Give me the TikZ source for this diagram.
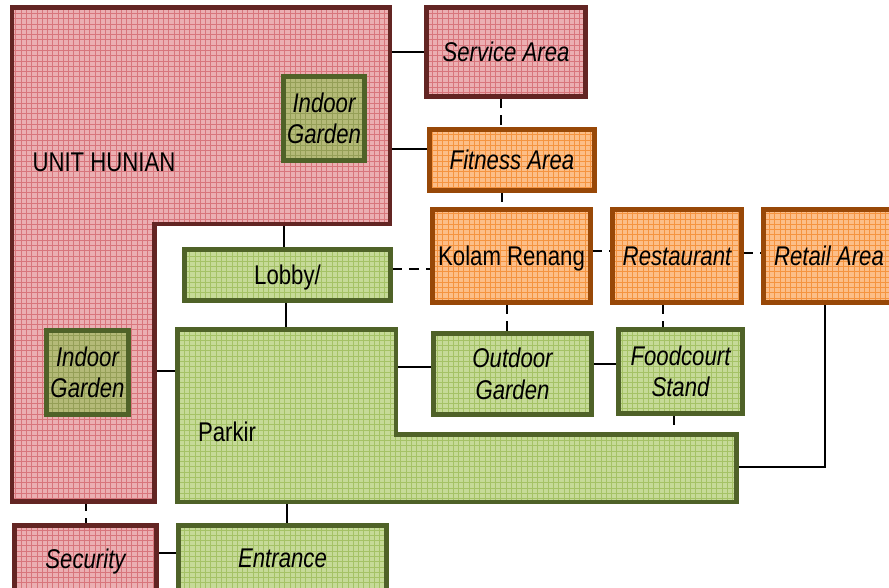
\documentclass[tikz,border=0pt]{standalone}
\usepackage{fontspec}
\setmainfont{Liberation Sans}[FakeStretch=0.82]
\usepackage{xcolor}
\usepackage{tikz}
\usetikzlibrary{patterns,backgrounds,calc}
\definecolor{REDLINE}{HTML}{632523}
\definecolor{PINK}{HTML}{EBAFB2}
\definecolor{PINKGRID}{HTML}{D8767C}
\definecolor{ORLINE}{HTML}{984807}
\definecolor{ORANGE}{HTML}{FCBE88}
\definecolor{ORGRID}{HTML}{F59440}
\definecolor{GRLINE}{HTML}{4F6228}
\definecolor{GREEN}{HTML}{C6DA98}
\definecolor{GRGRID}{HTML}{A5C266}
\definecolor{OLIVE}{HTML}{B4BA78}
\definecolor{OLGRID}{HTML}{959F57}
\newcommand{\bodyfont}{\fontsize{15.4}{18}\selectfont}

\begin{document}
\begin{tikzpicture}[
  x=0.02cm, y=-0.02cm,
  font=\bodyfont,
  area/.style={draw, line width=2.6pt, align=center, inner sep=0pt},
  pinkarea/.style={area, draw=REDLINE, preaction={fill=PINK}, pattern=grid, pattern color=PINKGRID},
  orarea/.style={area, draw=ORLINE, preaction={fill=ORANGE}, pattern=grid, pattern color=ORGRID},
  grarea/.style={area, draw=GRLINE, preaction={fill=GREEN}, pattern=grid, pattern color=GRGRID},
  olarea/.style={area, draw=GRLINE, preaction={fill=OLIVE}, pattern=grid, pattern color=OLGRID},
  slant/.style={font=\bodyfont\itshape},
  oneline/.style={text height=11pt, text depth=0pt},
  link/.style={draw=black, line width=1.1pt},
  dashlink/.style={link, dash pattern=on 5.5pt off 4pt},
]
\useasboundingbox (0,0) rectangle (889,588);
\clip (0,0) rectangle (889,588);

% unit hunian (L shape)
\coordinate (unTL) at (12,7.5);
\coordinate (unTR) at (390,7.5);
\coordinate (unIn) at (390,224);
\coordinate (unBR) at (154.5,501.5);
\coordinate (unBL) at (12,501.5);
\draw[area, draw=REDLINE, preaction={fill=PINK}, pattern=grid, pattern color=PINKGRID]
  (unTL) -- (unTR) -- (unIn) -- (154.5,224) -- (unBR) -- (unBL) -- cycle;
\node (unit) at (104,162) {UNIT HUNIAN};

% parkir (L shape)
\coordinate (pkTL) at (177.5,329.5);
\coordinate (pkTR) at (396,329.5);
\coordinate (pkArm) at (396,434.5);
\coordinate (pkBR) at (736.5,502);
\draw[area, draw=GRLINE, preaction={fill=GREEN}, pattern=grid, pattern color=GRGRID]
  (pkTL) -- (pkTR) -- (pkArm) -- (736.5,434.5) -- (pkBR) -- (177.5,502) -- cycle;
\node (parkir) at (227,432) {Parkir};

% gardens inside unit hunian
\node[olarea, slant, minimum width=1.62cm, minimum height=1.68cm] (gardenTop) at (324,118.5) {Indoor\\Garden};
\node[olarea, slant, minimum width=1.64cm, minimum height=1.68cm] (gardenLow) at (87.5,372.5) {Indoor\\Garden};

% upper column
\node[pinkarea, slant, minimum width=3.18cm, minimum height=1.78cm] (service) at (506,52) {Service Area};
\node[orarea, slant, minimum width=3.30cm, minimum height=1.22cm] (fitness) at (512,160) {Fitness Area};

% middle row
\node[grarea, oneline, minimum width=4.12cm, minimum height=1.02cm] (lobby) at (287.5,275) {Lobby/};
\node[orarea, oneline, minimum width=3.16cm, minimum height=1.86cm] (kolam) at (511.5,256) {Kolam Renang};
\node[orarea, slant, minimum width=2.58cm, minimum height=1.86cm] (resto) at (677,256) {Restaurant};
\node[orarea, slant, minimum width=2.62cm, minimum height=1.86cm] (retail) at (829,256) {Retail Area};

% lower row
\node[grarea, slant, minimum width=3.16cm, minimum height=1.62cm] (outdoor) at (512.5,374) {Outdoor\\Garden};
\node[grarea, slant, minimum width=2.48cm, minimum height=1.68cm] (food) at (680.5,371.5) {Foodcourt\\Stand};

% bottom row
\node[pinkarea, slant, oneline, minimum width=2.84cm, minimum height=1.33cm] (security) at (85.5,558.75) {Security};
\node[grarea, slant, minimum width=4.16cm, minimum height=1.33cm] (entrance) at (282.5,558.75) {Entrance};

% connections (behind the areas)
\begin{scope}[on background layer]
\fill[white] (0,0) rectangle (889,588);
\draw[link] (unTR |- service.west) -- (service.west);
\draw[link] (unTR |- 0,149) -- (fitness.west |- 0,149);
\draw[dashlink] (service.south -| 501,0) -- (fitness.north -| 501,0);
\draw[dashlink] (fitness.south -| 502,0) -- (kolam.north -| 502,0);
\draw[link] (unIn -| 284,0) -- (lobby.north -| 284,0);
\draw[dashlink] (lobby.east |- 0,269) -- (kolam.west |- 0,269);
\draw[dashlink] (kolam.east |- 0,251) -- (resto.west |- 0,251);
\draw[dashlink] (resto.east |- 0,253) -- (retail.west |- 0,253);
\draw[link] (lobby.south -| 286,0) -- (pkTL -| 286,0);
\draw[dashlink] (kolam.south -| 507,0) -- (outdoor.north -| 507,0);
\draw[dashlink] (resto.south -| 663,0) -- (food.north -| 663,0);
\draw[link] (pkTR |- 0,367) -- (outdoor.west |- 0,367);
\draw[link] (outdoor.east |- 0,364) -- (food.west |- 0,364);
\draw[dashlink] (food.south -| 674,0) -- (pkArm -| 674,0);
\draw[link] (retail.south -| 825,0) |- (pkBR |- 0,467);
\draw[link] (unBR |- 0,371) -- (pkTL |- 0,371);
\draw[dashlink] (unBL -| 86,0) -- (security.north -| 86,0);
\draw[link] (security.east |- 0,553) -- (entrance.west |- 0,553);
\draw[link] (pkBR -| 287,0) -- (entrance.north -| 287,0);
\end{scope}

\end{tikzpicture}
\end{document}
